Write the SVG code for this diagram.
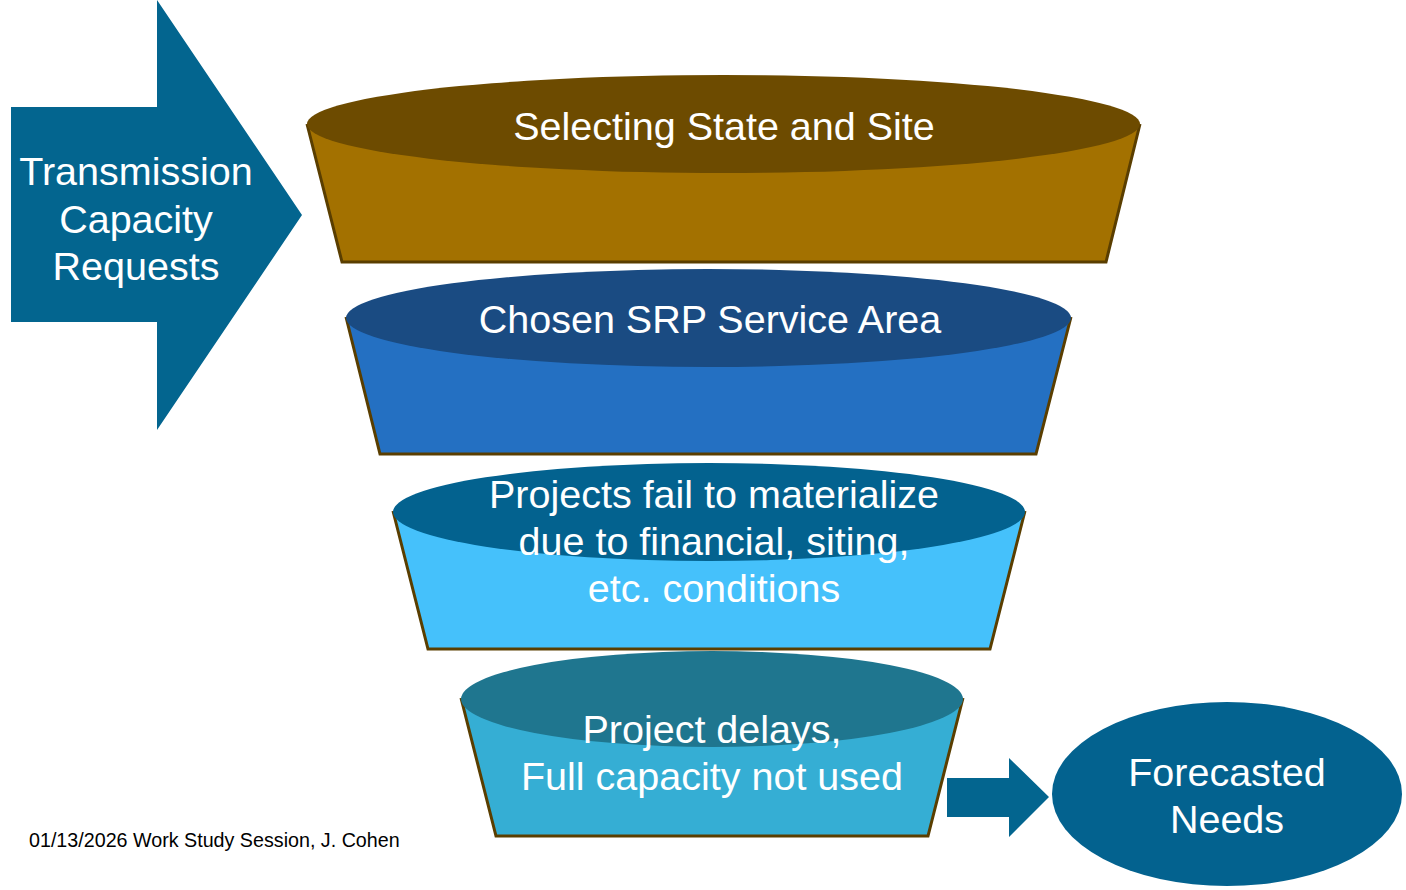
<svg xmlns="http://www.w3.org/2000/svg" width="1406" height="890" viewBox="0 0 1406 890">
<style>
  .t { font-family: "Liberation Sans", Arial, sans-serif; fill: #ffffff; font-size: 39.5px; text-anchor: middle; }
  .edge { fill: none; stroke: #5a3e00; stroke-width: 3; stroke-linejoin: miter; }
  .foot { font-family: "Liberation Sans", Arial, sans-serif; fill: #000000; font-size: 19.7px; }
</style>
<rect width="1406" height="890" fill="#ffffff"/>

<g id="requests">
  <polygon points="11,107 157,107 157,0 302,215 157,430 157,322 11,322" fill="#03658f"/>
  <text class="t" x="136" y="185">Transmission</text>
  <text class="t" x="136" y="233">Capacity</text>
  <text class="t" x="136" y="280">Requests</text>
</g>

<g id="stage1">
  <polygon points="307,124 342,262 1106,262 1140,124" fill="#a37100"/>
  <polyline class="edge" points="307,124 342,262 1106,262 1140,124"/>
  <ellipse cx="723.5" cy="124" rx="416.5" ry="49" fill="#6d4b00"/>
  <text class="t" x="724" y="140">Selecting State and Site</text>
</g>

<g id="stage2">
  <polygon points="346,317 380,454 1036,454 1071,317" fill="#2470c2"/>
  <polyline class="edge" points="346,317 380,454 1036,454 1071,317"/>
  <ellipse cx="708.5" cy="318" rx="362.5" ry="49" fill="#1a4b82"/>
  <text class="t" x="710" y="333">Chosen SRP Service Area</text>
</g>

<g id="stage3">
  <polygon points="393,511 428,649 990,649 1025,511" fill="#45c1fb"/>
  <polyline class="edge" points="393,511 428,649 990,649 1025,511"/>
  <ellipse cx="709" cy="512" rx="316" ry="49" fill="#03628f"/>
  <text class="t" x="714" y="508">Projects fail to materialize</text>
  <text class="t" x="714" y="555">due to financial, siting,</text>
  <text class="t" x="714" y="602">etc. conditions</text>
</g>

<g id="stage4">
  <polygon points="461,698 496,836 928,836 963,698" fill="#35aed4"/>
  <polyline class="edge" points="461,698 496,836 928,836 963,698"/>
  <ellipse cx="712" cy="699" rx="251" ry="48" fill="#1f768f"/>
  <text class="t" x="712" y="743">Project delays,</text>
  <text class="t" x="712" y="790">Full capacity not used</text>
</g>

<g id="connectors">
  <polygon points="947,778 1009,778 1009,758 1049,797 1009,837 1009,817 947,817" fill="#03658f"/>
</g>

<g id="forecast">
  <ellipse cx="1227" cy="794" rx="175" ry="92" fill="#03628f"/>
  <text class="t" x="1227" y="786">Forecasted</text>
  <text class="t" x="1227" y="833">Needs</text>
</g>

<text class="foot" x="29" y="847">01/13/2026 Work Study Session, J. Cohen</text>
</svg>
